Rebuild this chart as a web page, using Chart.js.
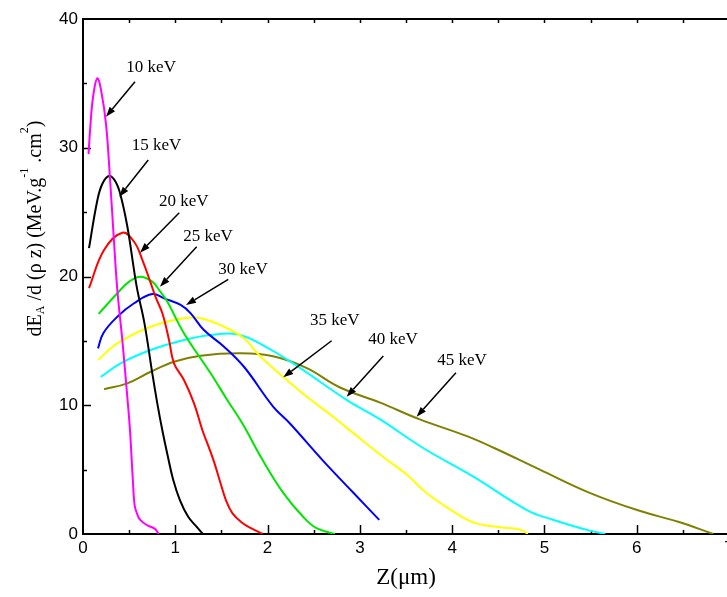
<!DOCTYPE html>
<html><head><meta charset="utf-8">
<script src="https://cdn.jsdelivr.net/npm/chart.js@4.4.1/dist/chart.umd.min.js"></script>
<style>
html,body{margin:0;padding:0;overflow:hidden;background:#fff;width:727px;height:597px}
#wrap{position:absolute;left:0;top:0;width:740px;height:597px}
</style>
</head><body><div id="wrap"><canvas id="c"></canvas></div>
<script>
// ---- data (Z in µm, dE/d(ρz) in MeV.g^-1.cm^2) ----
const energies = ['10 keV','15 keV','20 keV','25 keV','30 keV','35 keV','40 keV','45 keV'];

const z10 = [0.06,0.08,0.11,0.155,0.20,0.25,0.29,0.33,0.372,0.426,0.48,0.509,0.54,0.56,0.59,0.62,0.69,0.78,0.82];
const e10 = [29.5,31.7,34.0,35.4,34.3,31.8,27.9,23.4,18.95,15.07,10.66,8.08,4.2,2.2,1.5,1.1,0.7,0.4,0.0];

const z15 = [0.065,0.155,0.21,0.282,0.35,0.408,0.48,0.553,0.59,0.665,0.751,0.805,0.859,0.92,0.978,1.05,1.14,1.23,1.30];
const e15 = [22.2,25.9,27.2,27.8,27.4,26.3,23.9,20.5,18.9,16.4,12.48,10.15,8.08,6.0,4.2,2.64,1.34,0.57,0.0];

const z20 = [0.065,0.228,0.426,0.553,0.643,0.733,0.787,0.86,0.932,0.986,1.094,1.203,1.293,1.36,1.42,1.48,1.55,1.62,1.72,1.82,1.95];
const e20 = [19.1,22.06,23.4,22.7,21.3,19.5,18.4,17.14,15.07,13.26,11.96,10.15,8.08,6.8,5.6,4.2,2.6,1.6,0.9,0.45,0.0];

const z25 = [0.17,0.372,0.50,0.618,0.75,0.84,0.91,1.094,1.383,1.563,1.726,1.95,2.17,2.39,2.53,2.73];
const e25 = [17.1,18.7,19.6,19.98,19.6,18.8,18.1,15.59,12.48,10.41,8.6,5.7,3.2,1.3,0.45,0.0];

const z30 = [0.163,0.22,0.372,0.553,0.751,0.878,1.058,1.167,1.31,1.528,1.744,2.06,2.24,2.60,2.93,3.21];
const e30 = [14.42,15.6,16.88,17.92,18.64,18.3,17.79,17.14,15.84,14.55,12.99,9.9,8.6,5.7,3.2,1.1];

const z35 = [0.163,0.372,0.733,1.094,1.275,1.528,1.744,1.92,2.17,2.42,2.71,2.97,3.25,3.51,3.72,3.98,4.23,4.52,4.73,4.82];
const e35 = [13.51,14.81,16.1,16.75,16.75,16.1,15.2,13.8,12.2,10.7,9.1,7.6,6.0,4.6,3.2,1.9,0.9,0.52,0.36,0.0];

const z40 = [0.192,0.408,0.733,1.094,1.383,1.672,1.99,2.35,2.86,3.22,3.69,4.23,4.81,5.10,5.49,5.66];
const e40 = [12.2,13.26,14.29,15.07,15.46,15.51,14.5,12.9,10.4,8.9,6.66,4.45,1.86,1.09,0.26,0.0];

const z45 = [0.228,0.48,0.733,0.986,1.275,1.709,2.06,2.42,2.78,3.22,3.65,4.16,4.45,4.95,5.49,6.03,6.45,6.83];
const e45 = [11.24,11.7,12.6,13.38,13.85,14.03,13.8,12.9,11.4,10.2,8.9,7.6,6.7,5.0,3.2,1.8,0.95,0.0];

const xTicks = [0,1,2,3,4,5,6,7];
const yTicks = [0,10,20,30,40];

// annotation anchors (data coordinates): label left/middle, arrow tail, arrow tip
const labelX = [0.47,0.528,0.823,1.087,1.466,2.459,3.091,3.839];
const labelY = [36.2,30.21,25.81,23.09,20.58,16.57,15.12,13.51];
const tailX  = [0.563,0.707,1.043,1.232,1.574,2.694,3.254,4.041];
const tailY  = [35.13,29.05,24.95,22.31,19.78,15.01,13.83,12.53];
const tipX   = [0.249,0.393,0.618,0.834,1.116,2.17,2.857,3.615];
const tipY   = [32.41,26.2,21.85,19.21,17.79,12.17,10.66,9.11];

// ---- styles ----
const colors = ['#ff00ff','#000000','#ff0000','#00e600','#0000ff','#ffff00','#00ffff','#808000'];
const zs = [z10,z15,z20,z25,z30,z35,z40,z45];
const es = [e10,e15,e20,e25,e30,e35,e40,e45];

const datasets = energies.map((name,i)=>({
  label: name,
  data: zs[i].map((z,k)=>({x:z, y:es[i][k]})),
  borderColor: colors[i],
  borderWidth: 2,
  pointRadius: 0,
  showLine: true,
  fill: false,
  tension: 0.4
}));

const frame = {
  id:'frame',
  beforeDatasetsDraw(chart){
    const {ctx, chartArea:a, scales:{x,y}} = chart;
    ctx.save();
    ctx.strokeStyle='#000';
    ctx.lineWidth=2;
    ctx.beginPath(); ctx.moveTo(a.left-1,a.top); ctx.lineTo(a.right+1,a.top); ctx.stroke();
    ctx.lineWidth=1.5;
    for(let v=0.5; v<x.max; v+=0.5){
      const px = Math.round(x.getPixelForValue(v))+0.5;
      const major = Math.abs(v-Math.round(v))<1e-6;
      ctx.beginPath(); ctx.moveTo(px,a.bottom); ctx.lineTo(px,a.bottom-(major?9:4)); ctx.stroke();
      ctx.beginPath(); ctx.moveTo(px,a.top); ctx.lineTo(px,a.top+4); ctx.stroke();
    }
    for(let v=5; v<y.max; v+=5){
      const py = Math.round(y.getPixelForValue(v))+0.5;
      const major = v%10===0;
      ctx.beginPath(); ctx.moveTo(a.left,py); ctx.lineTo(a.left+(major?8:4),py); ctx.stroke();
    }
    ctx.restore();
  },
  afterDatasetsDraw(chart){
    const {ctx, scales:{x,y}} = chart;
    ctx.save();
    ctx.fillStyle='#000'; ctx.strokeStyle='#000';
    ctx.font = "17px 'Liberation Serif'";
    ctx.textAlign='left'; ctx.textBaseline='middle';
    energies.forEach((name,i)=>{
      ctx.fillText(name, x.getPixelForValue(labelX[i]), y.getPixelForValue(labelY[i]));
      const x0=x.getPixelForValue(tailX[i]), y0=y.getPixelForValue(tailY[i]);
      const x1=x.getPixelForValue(tipX[i]), y1=y.getPixelForValue(tipY[i]);
      const ang=Math.atan2(y1-y0,x1-x0), L=10, W=3.5;
      const bx=x1-L*Math.cos(ang), by=y1-L*Math.sin(ang);
      ctx.lineWidth=1.5;
      ctx.beginPath(); ctx.moveTo(x0,y0); ctx.lineTo(bx,by); ctx.stroke();
      ctx.beginPath();
      ctx.moveTo(x1,y1);
      ctx.lineTo(bx+W*Math.sin(ang), by-W*Math.cos(ang));
      ctx.lineTo(bx-W*Math.sin(ang), by+W*Math.cos(ang));
      ctx.closePath(); ctx.fill();
    });
    ctx.restore();
  },
  afterDraw(chart){
    const ctx = chart.ctx;
    const parts = [
      {t:'dE', f:20, d:0},
      {t:'A', f:12, d:3},
      {t:' /d (\u03c1 z) (MeV.g', f:20, d:0},
      {t:'-1', f:12, d:-13},
      {t:' .cm', f:20, d:0},
      {t:'2', f:12, d:-13},
      {t:')', f:20, d:0}
    ];
    ctx.save();
    let w=0;
    parts.forEach(p=>{ ctx.font = p.f+"px 'Liberation Serif'"; p.w=ctx.measureText(p.t).width; w+=p.w; });
    ctx.translate(41, 228.5 + w/2);
    ctx.rotate(-Math.PI/2);
    ctx.fillStyle='#000'; ctx.textBaseline='alphabetic'; ctx.textAlign='left';
    let cx=0;
    parts.forEach(p=>{ ctx.font = p.f+"px 'Liberation Serif'"; ctx.fillText(p.t, cx, p.d); cx+=p.w; });
    ctx.restore();
  }
};

new Chart(document.getElementById('c'), {
  type:'scatter',
  data:{datasets},
  options:{
    responsive:true, maintainAspectRatio:false, animation:false,
    layout:{padding:{left:0, top:19, right:11, bottom:0}},
    plugins:{legend:{display:false}, tooltip:{enabled:false}},
    scales:{
      x:{
        type:'linear', min:0, max:7,
        afterFit:s=>{ s.height=63; },
        afterBuildTicks:s=>{ s.ticks = xTicks.map(v=>({value:v})); },
        grid:{display:false, drawTicks:false, tickLength:0},
        border:{display:true, color:'#000', width:2},
        ticks:{color:'#000', padding:4, maxRotation:0, autoSkip:false, font:{family:"'Liberation Sans'", size:17}},
        title:{display:true, text:'Z(\u03bcm)', color:'#000', font:{family:"'Liberation Serif'", size:23}, padding:{top:0,bottom:5}}
      },
      y:{
        type:'linear', min:0, max:40,
        afterFit:s=>{ s.width=83; },
        afterBuildTicks:s=>{ s.ticks = yTicks.map(v=>({value:v})); },
        grid:{display:false, drawTicks:false, tickLength:0},
        border:{display:true, color:'#000', width:2},
        ticks:{color:'#000', padding:5, font:{family:"'Liberation Sans'", size:17}}
      }
    }
  },
  plugins:[frame]
});
</script>
</body></html>
